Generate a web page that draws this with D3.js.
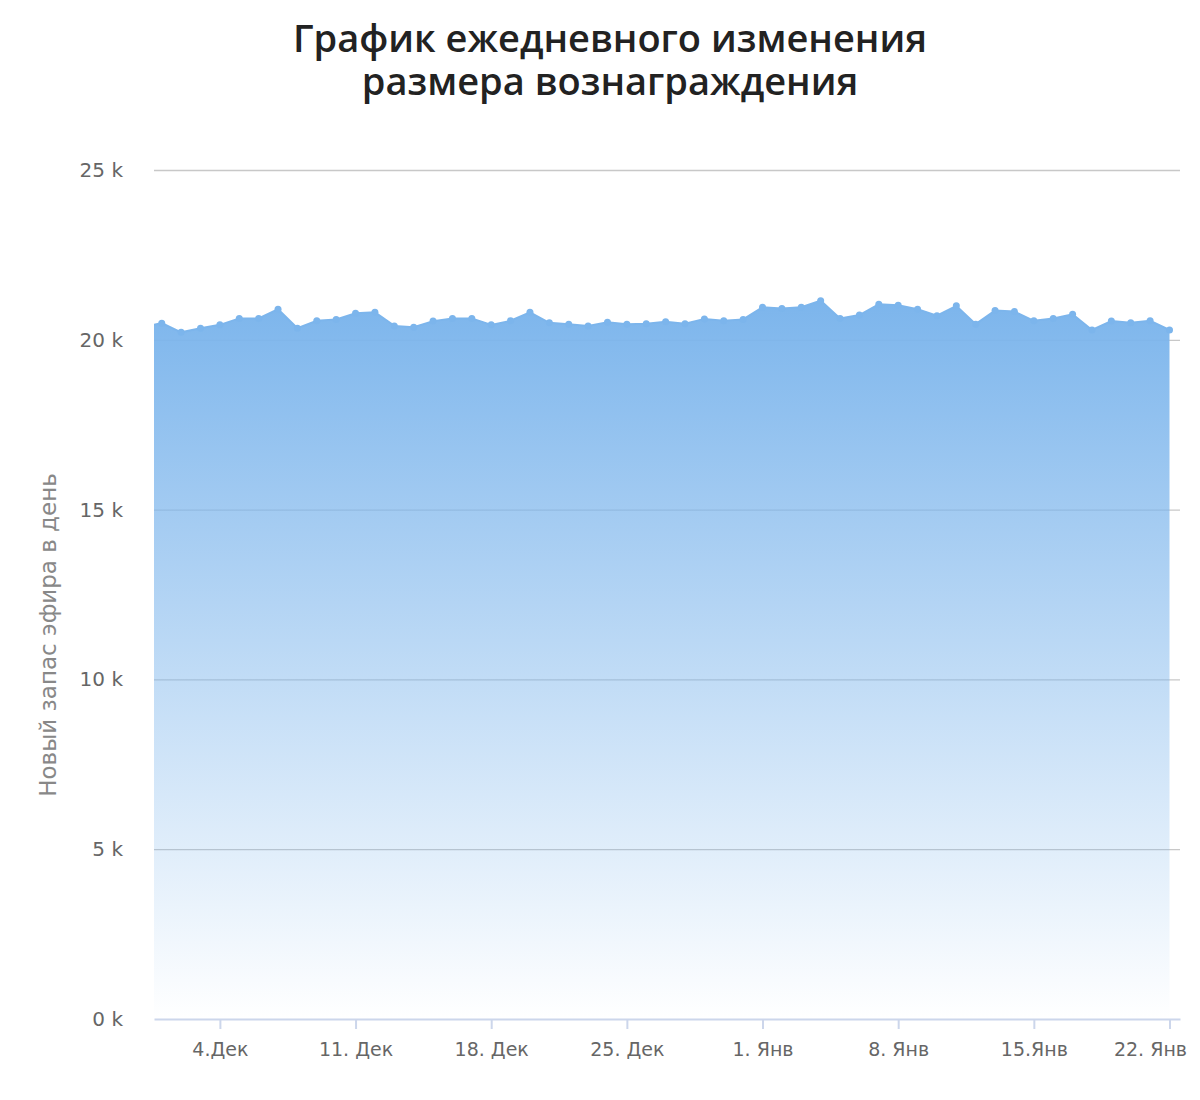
<!DOCTYPE html>
<html>
<head>
<meta charset="utf-8">
<script src="https://cdn.jsdelivr.net/npm/d3@7"></script>
<style>
  html, body { margin: 0; padding: 0; background: #fff; }
  svg { display: block; }
</style>
</head>
<body>
<svg id="chart" width="1200" height="1100"></svg>
<script>
// ---- data ----
const titleLines = ["График ежедневного изменения", "размера вознаграждения"];
const yAxisTitle = "Новый запас эфира в день";
const startDate = "2017-11-30"; // first (partly clipped) day
const dailyValues = [
  20370, // 30 Nov
  20490, 20220, 20340, 20440, 20630, 20630, 20900, 20340, 20560, 20600, // 1-10 Dec
  20780, 20810, 20410, 20370, 20550, 20630, 20630, 20440, 20560, 20810, // 11-20 Dec
  20500, 20460, 20410, 20520, 20460, 20470, 20530, 20470, 20610, 20560, // 21-30 Dec
  20600,                                                               // 31 Dec
  20960, 20920, 20960, 21150, 20630, 20730, 21050, 21020, 20900, 20710, // 1-10 Jan
  21000, 20460, 20860, 20830, 20560, 20630, 20750, 20290, 20550, 20500, // 11-20 Jan
  20560, 20290                                                         // 21-22 Jan
];
const yTicks = [0, 5000, 10000, 15000, 20000, 25000];
const yTickLabels = ["0 k", "5 k", "10 k", "15 k", "20 k", "25 k"];
const xTickDates = ["2017-12-04", "2017-12-11", "2017-12-18", "2017-12-25", "2018-01-01", "2018-01-08", "2018-01-15", "2018-01-22"];
const xTickLabels = ["4.Дек", "11. Дек", "18. Дек", "25. Дек", "1. Янв", "8. Янв", "15.Янв", "22. Янв"];
const xDomain = ["2017-11-30T14:24:00", "2018-01-22T13:00:00"];

// ---- build ----
const parse = d3.isoParse;
const DAY = 86400000;
const t0 = parse(startDate + "T00:00:00");
const data = dailyValues.map((v, i) => ({ date: new Date(t0.getTime() + i * DAY), value: v }));

const svg = d3.select("#chart");
const pL = 154, pR = 1180, pT = 170, pB = 1019;

const x = d3.scaleTime().domain(xDomain.map(s => parse(s))).range([pL, pR]);
const y = d3.scaleLinear().domain([0, 25000]).range([pB, pT]);

// title
const title = svg.append("text")
  .attr("x", 610).attr("text-anchor", "middle")
  .attr("font-family", "'Open Sans', sans-serif").attr("font-size", 38)
  .attr("font-weight", 600)
  .attr("fill", "#222");
titleLines.forEach((l, i) => {
  title.append("tspan").attr("x", 610).attr("y", 52 + i * 43).text(l);
});

// defs
const defs = svg.append("defs");
const grad = defs.append("linearGradient").attr("id", "areaGrad")
  .attr("x1", 0).attr("y1", 0).attr("x2", 0).attr("y2", 1);
grad.append("stop").attr("offset", "0%").attr("stop-color", "#7cb5ec").attr("stop-opacity", 1);
grad.append("stop").attr("offset", "100%").attr("stop-color", "#7cb5ec").attr("stop-opacity", 0.0);
defs.append("clipPath").attr("id", "plotClip").append("rect")
  .attr("x", pL).attr("y", pT - 10).attr("width", pR - pL).attr("height", pB - pT + 10);

// gridlines (under the semi-transparent area)
const grid = svg.append("g");
grid.selectAll("line").data(yTicks.filter(t => t > 0)).join("line")
  .attr("x1", pL).attr("x2", pR)
  .attr("y1", d => y(d) + 0.5).attr("y2", d => y(d) + 0.5)
  .attr("stroke", "#c8c8c8").attr("stroke-width", 1.3);

// area + line
const g = svg.append("g").attr("clip-path", "url(#plotClip)");
g.append("path").datum(data)
  .attr("fill", "url(#areaGrad)")
  .attr("d", d3.area().x(d => x(d.date)).y0(y(0)).y1(d => y(d.value)));

g.append("path").datum(data)
  .attr("fill", "none").attr("stroke", "#7cb5ec").attr("stroke-width", 2)
  .attr("d", d3.line().x(d => x(d.date)).y(d => y(d.value)));
g.selectAll("circle").data(data).join("circle")
  .attr("cx", d => x(d.date)).attr("cy", d => y(d.value)).attr("r", 3.5)
  .attr("fill", "#7cb5ec");

// y axis labels
svg.append("g").selectAll("text").data(yTicks).join("text")
  .attr("x", 123).attr("y", d => y(d)).attr("dy", "0.35em")
  .attr("text-anchor", "end")
  .attr("font-family", "'DejaVu Sans', sans-serif").attr("font-size", 20)
  .attr("fill", "#666")
  .text((d, i) => yTickLabels[i]);

// y axis title
svg.append("text")
  .attr("transform", `translate(56,635) rotate(-90)`)
  .attr("text-anchor", "middle")
  .attr("font-family", "'DejaVu Sans', sans-serif").attr("font-size", 23)
  .attr("fill", "#888")
  .text(yAxisTitle);

// x axis
const xAxis = d3.axisBottom(x)
  .tickValues(xTickDates.map(s => parse(s + "T00:00:00")))
  .tickFormat((d, i) => xTickLabels[i])
  .tickSize(10).tickSizeOuter(0).tickPadding(14);
const xg = svg.append("g").attr("transform", `translate(0,${pB})`).call(xAxis);
xg.select(".domain").attr("stroke", "#ccd6eb").attr("stroke-width", 2);
xg.selectAll(".tick line").attr("stroke", "#ccd6eb").attr("stroke-width", 2);
xg.selectAll(".tick text")
  .attr("font-family", "'DejaVu Sans', sans-serif").attr("font-size", 19)
  .attr("fill", "#666");
// keep the last label inside the chart, as the reference does
xg.selectAll(".tick text").filter((d, i, n) => i === n.length - 1)
  .attr("text-anchor", "end").attr("x", 17);
</script>
</body>
</html>
